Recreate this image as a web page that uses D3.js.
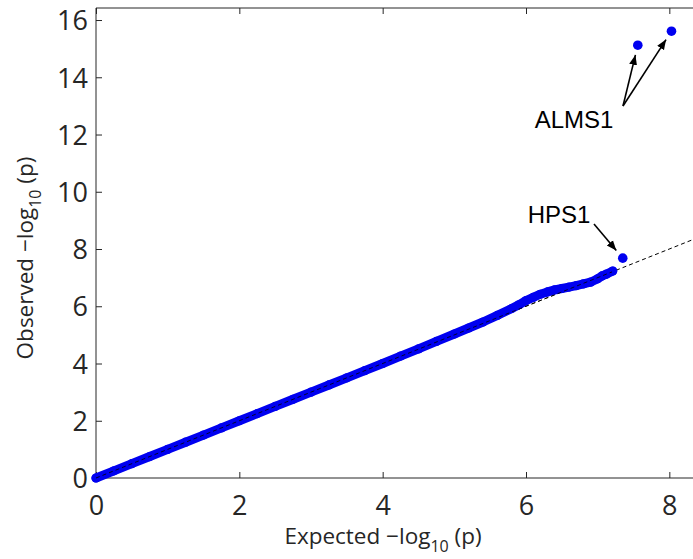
<!DOCTYPE html>
<html>
<head>
<meta charset="utf-8">
<script src="https://cdn.jsdelivr.net/npm/d3@7"></script>
<style>
  html, body { margin: 0; padding: 0; background: #fff; }
  svg { display: block; }
</style>
</head>
<body>
<svg id="chart" width="693" height="559"></svg>
<script>
// Expected vs observed -log10(p) along the bulk of the distribution
const expected = [0.00, 0.25, 0.50, 0.75, 1.00, 1.25, 1.50, 1.75, 2.00, 2.25, 2.50, 2.75,
  3.00, 3.25, 3.50, 3.75, 4.00, 4.25, 4.50, 4.75, 5.00, 5.20, 5.40, 5.60, 5.80, 5.90,
  6.00, 6.10, 6.20, 6.30, 6.40, 6.50, 6.60, 6.70, 6.80, 6.90, 7.00, 7.06, 7.12, 7.21];
const observed = [0.00, 0.25, 0.50, 0.75, 1.00, 1.25, 1.50, 1.75, 2.00, 2.25, 2.50, 2.75,
  3.00, 3.25, 3.50, 3.75, 4.00, 4.26, 4.51, 4.77, 5.03, 5.24, 5.45, 5.68, 5.92, 6.05,
  6.20, 6.31, 6.42, 6.50, 6.57, 6.62, 6.67, 6.72, 6.78, 6.84, 6.96, 7.06, 7.12, 7.23];

// Top hits, labelled by gene
const hitGenes = ["HPS1", "ALMS1", "ALMS1"];
const hitExpected = [7.35, 7.56, 8.03];
const hitObserved = [7.68, 15.12, 15.61];

const xTicks = [0, 2, 4, 6, 8];
const yTicks = [0, 2, 4, 6, 8, 10, 12, 14, 16];

(function draw() {
  const svg = d3.select("#chart");
  const m = { left: 96, right: 698, top: 8, bottom: 478 };
  const x = d3.scaleLinear().domain([0, 8.4]).range([m.left, m.right]);
  const y = d3.scaleLinear().domain([0, 16.42]).range([m.bottom, m.top]);

  const axisColor = "#262626";
  const tickFont = "'Open Sans', 'Noto Sans', sans-serif";

  // axes box (left, bottom, top)
  const axes = svg.append("g").attr("stroke", axisColor).attr("stroke-width", 1).attr("fill", "none");
  axes.append("line").attr("x1", m.left).attr("x2", m.left).attr("y1", m.top).attr("y2", m.bottom);
  axes.append("line").attr("x1", m.left).attr("x2", m.right).attr("y1", m.bottom).attr("y2", m.bottom);
  axes.append("line").attr("x1", m.left).attr("x2", m.right).attr("y1", m.top).attr("y2", m.top);

  // inward ticks
  const xa = svg.append("g").attr("transform", `translate(0,${m.bottom})`)
    .call(d3.axisBottom(x).tickValues(xTicks).tickSizeInner(-6).tickSizeOuter(0).tickPadding(14));
  xa.select(".domain").remove();
  const xt = svg.append("g").attr("transform", `translate(0,${m.top})`)
    .call(d3.axisTop(x).tickValues(xTicks).tickSizeInner(-6).tickSizeOuter(0).tickFormat(""));
  xt.select(".domain").remove();
  const ya = svg.append("g").attr("transform", `translate(${m.left},0)`)
    .call(d3.axisLeft(y).tickValues(yTicks).tickSizeInner(-6).tickSizeOuter(0).tickPadding(8));
  ya.select(".domain").remove();

  [xa, xt, ya].forEach(g => {
    g.selectAll("line").attr("stroke", axisColor);
    g.selectAll("text").attr("fill", axisColor).style("font-family", tickFont).style("font-size", "27px");
  });
  xa.selectAll("text").attr("dy", "0.85em");
  ya.selectAll("text").attr("dy", "0.36em");

  // reference diagonal y = x
  svg.append("line")
    .attr("x1", x(0)).attr("y1", y(0)).attr("x2", x(8.4)).attr("y2", y(8.4))
    .attr("stroke", "#000").attr("stroke-width", 1).attr("stroke-dasharray", "4,3");

  // dense body of points
  const pts = expected.map((e, i) => [e, observed[i]]);
  const blue = "#0000f0";
  svg.append("path")
    .datum(pts)
    .attr("d", d3.line().x(d => x(d[0])).y(d => y(d[1])))
    .attr("fill", "none").attr("stroke", blue).attr("stroke-width", 9)
    .attr("stroke-linecap", "round").attr("stroke-linejoin", "round");
  svg.append("g").selectAll("circle").data(pts).join("circle")
    .attr("cx", d => x(d[0])).attr("cy", d => y(d[1])).attr("r", 4.6).attr("fill", blue);

  // diagonal shows faintly over the body
  svg.append("line")
    .attr("x1", x(0)).attr("y1", y(0)).attr("x2", x(7.2)).attr("y2", y(7.2))
    .attr("stroke", "#000").attr("stroke-width", 1).attr("stroke-dasharray", "4,3").attr("opacity", 0.8);

  // top hits
  const hits = hitGenes.map((g, i) => ({ gene: g, e: hitExpected[i], o: hitObserved[i] }));
  svg.append("g").selectAll("circle").data(hits).join("circle")
    .attr("cx", d => x(d.e)).attr("cy", d => y(d.o)).attr("r", 4.8).attr("fill", blue);

  // annotation arrows
  svg.append("defs").append("marker")
    .attr("id", "head").attr("viewBox", "0 0 10 10").attr("refX", 10).attr("refY", 5)
    .attr("markerWidth", 10).attr("markerHeight", 10).attr("markerUnits", "userSpaceOnUse")
    .attr("orient", "auto")
    .append("path").attr("d", "M0,1 L10,5 L0,9 Z").attr("fill", "#000");

  function arrow(x1, y1, d) {
    // stop a little short of the point
    const tx = x(d.e), ty = y(d.o);
    const dx = tx - x1, dy = ty - y1, len = Math.hypot(dx, dy);
    const gap = 10;
    svg.append("line")
      .attr("x1", x1).attr("y1", y1)
      .attr("x2", tx - dx / len * gap).attr("y2", ty - dy / len * gap)
      .attr("stroke", "#000").attr("stroke-width", 1.6).attr("marker-end", "url(#head)");
  }
  arrow(594, 224, hits[0]);
  arrow(623, 106, hits[1]);
  arrow(623, 106, hits[2]);

  const annFont = "'Liberation Sans', Arial, sans-serif";
  svg.append("text").attr("x", 559).attr("y", 223).attr("text-anchor", "middle")
    .style("font-family", annFont).style("font-size", "24px").attr("fill", "#000").text("HPS1");
  svg.append("text").attr("x", 574).attr("y", 128).attr("text-anchor", "middle")
    .style("font-family", annFont).style("font-size", "24px").attr("fill", "#000").text("ALMS1");

  // axis titles
  function title(sel, word) {
    sel.style("font-family", tickFont).style("font-size", "22.5px").attr("fill", axisColor);
    sel.append("tspan").text(word + " \u2212log");
    sel.append("tspan").attr("dy", 8).style("font-size", "16px").text("10");
    sel.append("tspan").attr("dy", -8).text(" (p)");
  }
  title(svg.append("text").attr("x", 383).attr("y", 544).attr("text-anchor", "middle"), "Expected");
  title(svg.append("text").attr("transform", "translate(33,258) rotate(-90)").attr("text-anchor", "middle"), "Observed");
})();
</script>
</body>
</html>
